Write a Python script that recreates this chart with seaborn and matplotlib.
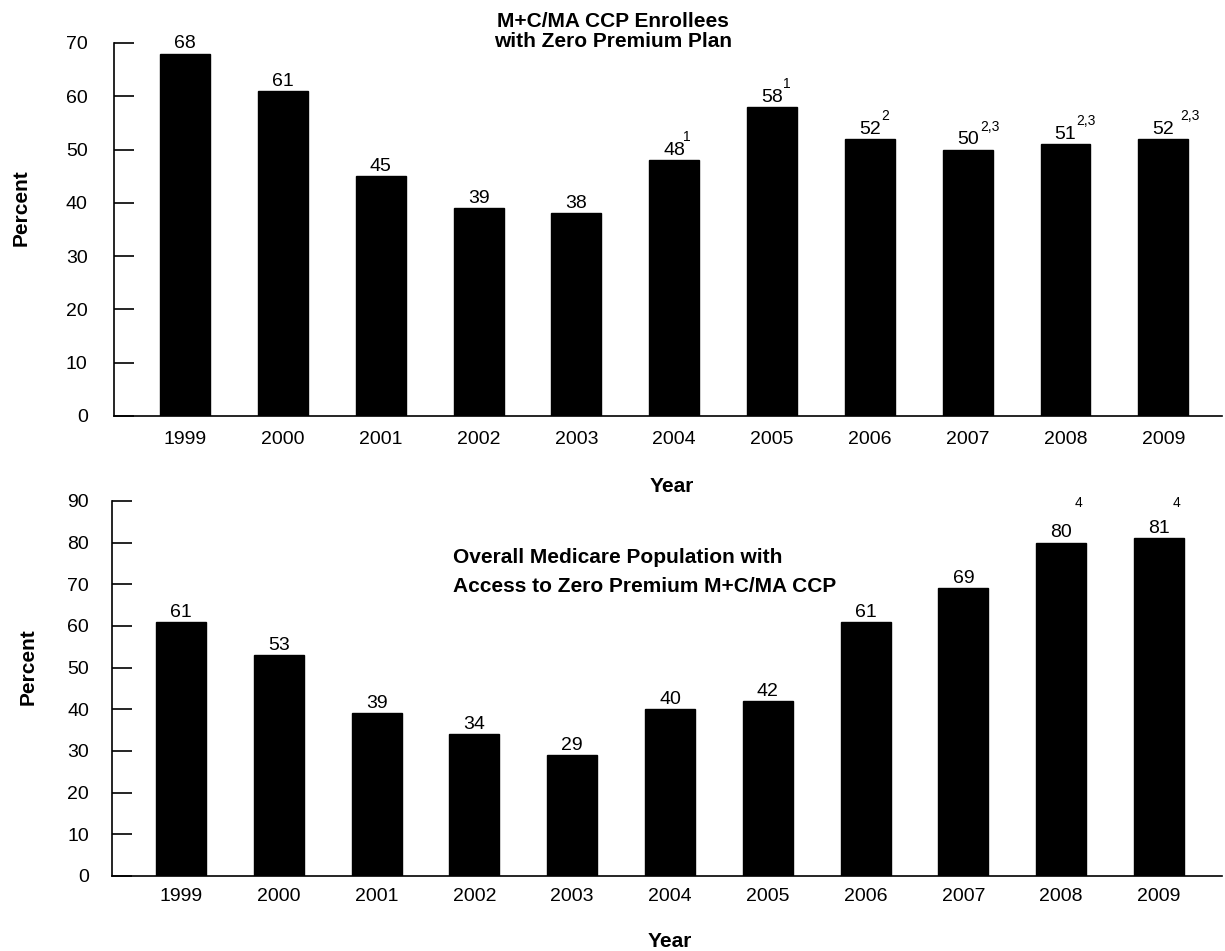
import pandas as pd
import seaborn as sns
import matplotlib.pyplot as plt

# data
years = ['1999', '2000', '2001', '2002', '2003', '2004', '2005', '2006', '2007', '2008', '2009']
enrollees_zero = [68, 61, 45, 39, 38, 48, 58, 52, 50, 51, 52]
enrollees_notes = ['', '', '', '', '', '1', '1', '2', '2,3', '2,3', '2,3']
access_zero = [61, 53, 39, 34, 29, 40, 42, 61, 69, 80, 81]
access_notes = ['', '', '', '', '', '', '', '', '', '4', '4']

sns.set_style('ticks')
plt.rcParams['font.family'] = ['Liberation Sans', 'DejaVu Sans']
plt.rcParams['text.color'] = 'black'
plt.rcParams['xtick.color'] = 'black'
plt.rcParams['ytick.color'] = 'black'
plt.rcParams['axes.edgecolor'] = 'black'

top_df = pd.DataFrame({'year': years, 'pct': enrollees_zero})
bot_df = pd.DataFrame({'year': years, 'pct': access_zero})

fig = plt.figure(figsize=(12.25, 9.51), dpi=100)
ax1 = fig.add_axes([0.0931, 0.5626, 0.9045, 0.3922])
ax2 = fig.add_axes([0.0914, 0.0789, 0.9061, 0.3943])

# horizontal nudge (points) of each footnote mark, from the reference
top_dx = [0, 0, 0, 0, 0, 6, 8, 8, 9, 8, 12]
bot_dx = [0, 0, 0, 0, 0, 0, 0, 0, 0, 10, 10]


def draw(ax, df, ymax, xlim, ypad, xpad):
    sns.barplot(x='year', y='pct', data=df, color='black', width=0.51, ax=ax,
                saturation=1, edgecolor='black')
    ax.set_xlim(*xlim)
    ax.set_ylim(0, ymax)
    ax.set_yticks(range(0, ymax + 1, 10))
    sns.despine(ax=ax)
    for s in ['left', 'bottom']:
        ax.spines[s].set_linewidth(1.2)
    ax.tick_params(axis='y', direction='in', length=14.5, width=1.2, pad=ypad, labelsize=14)
    ax.tick_params(axis='x', length=0, pad=xpad, labelsize=14)
    ax.set_xlabel('')
    ax.set_ylabel('')
    for i, v in enumerate(df['pct']):
        ax.annotate(str(v), (i, v), xytext=(0, 3.8), textcoords='offset points',
                    ha='center', va='baseline', fontsize=14)


draw(ax1, top_df, 70, (-0.726, 10.6), 19, 11)
draw(ax2, bot_df, 90, (-0.706, 10.644), 16.5, 9)

# footnote marks
for i, v in enumerate(enrollees_zero):
    if enrollees_notes[i]:
        ax1.annotate(enrollees_notes[i], (i, v), xytext=(top_dx[i], 13.5), textcoords='offset points',
                     ha='left', va='baseline', fontsize=10)
for i, v in enumerate(access_zero):
    if access_notes[i]:
        ax2.annotate(access_notes[i], (i, 88.6), xytext=(bot_dx[i], 0), textcoords='offset points',
                     ha='left', va='baseline', fontsize=10)

fig.text(0.5004, 0.9716, 'M+C/MA CCP Enrollees', ha='center', va='baseline',
         fontsize=15, fontweight='bold')
fig.text(0.5004, 0.9506, 'with Zero Premium Plan', ha='center', va='baseline',
         fontsize=15, fontweight='bold')
fig.text(0.3698, 0.408, 'Overall Medicare Population with', ha='left', va='baseline',
         fontsize=15, fontweight='bold')
fig.text(0.3698, 0.3775, 'Access to Zero Premium M+C/MA CCP', ha='left', va='baseline',
         fontsize=15, fontweight='bold')
fig.text(0.5486, 0.4826, 'Year', ha='center', va='baseline', fontsize=15, fontweight='bold')
fig.text(0.5470, 0.004, 'Year', ha='center', va='baseline', fontsize=15, fontweight='bold')
fig.text(0.0171, 1 - 208 / 951, 'Percent', ha='center', va='center', rotation=90,
         fontsize=15, fontweight='bold')
fig.text(0.0229, 1 - 667 / 951, 'Percent', ha='center', va='center', rotation=90,
         fontsize=15, fontweight='bold')

fig.savefig('out.png', dpi=100)
